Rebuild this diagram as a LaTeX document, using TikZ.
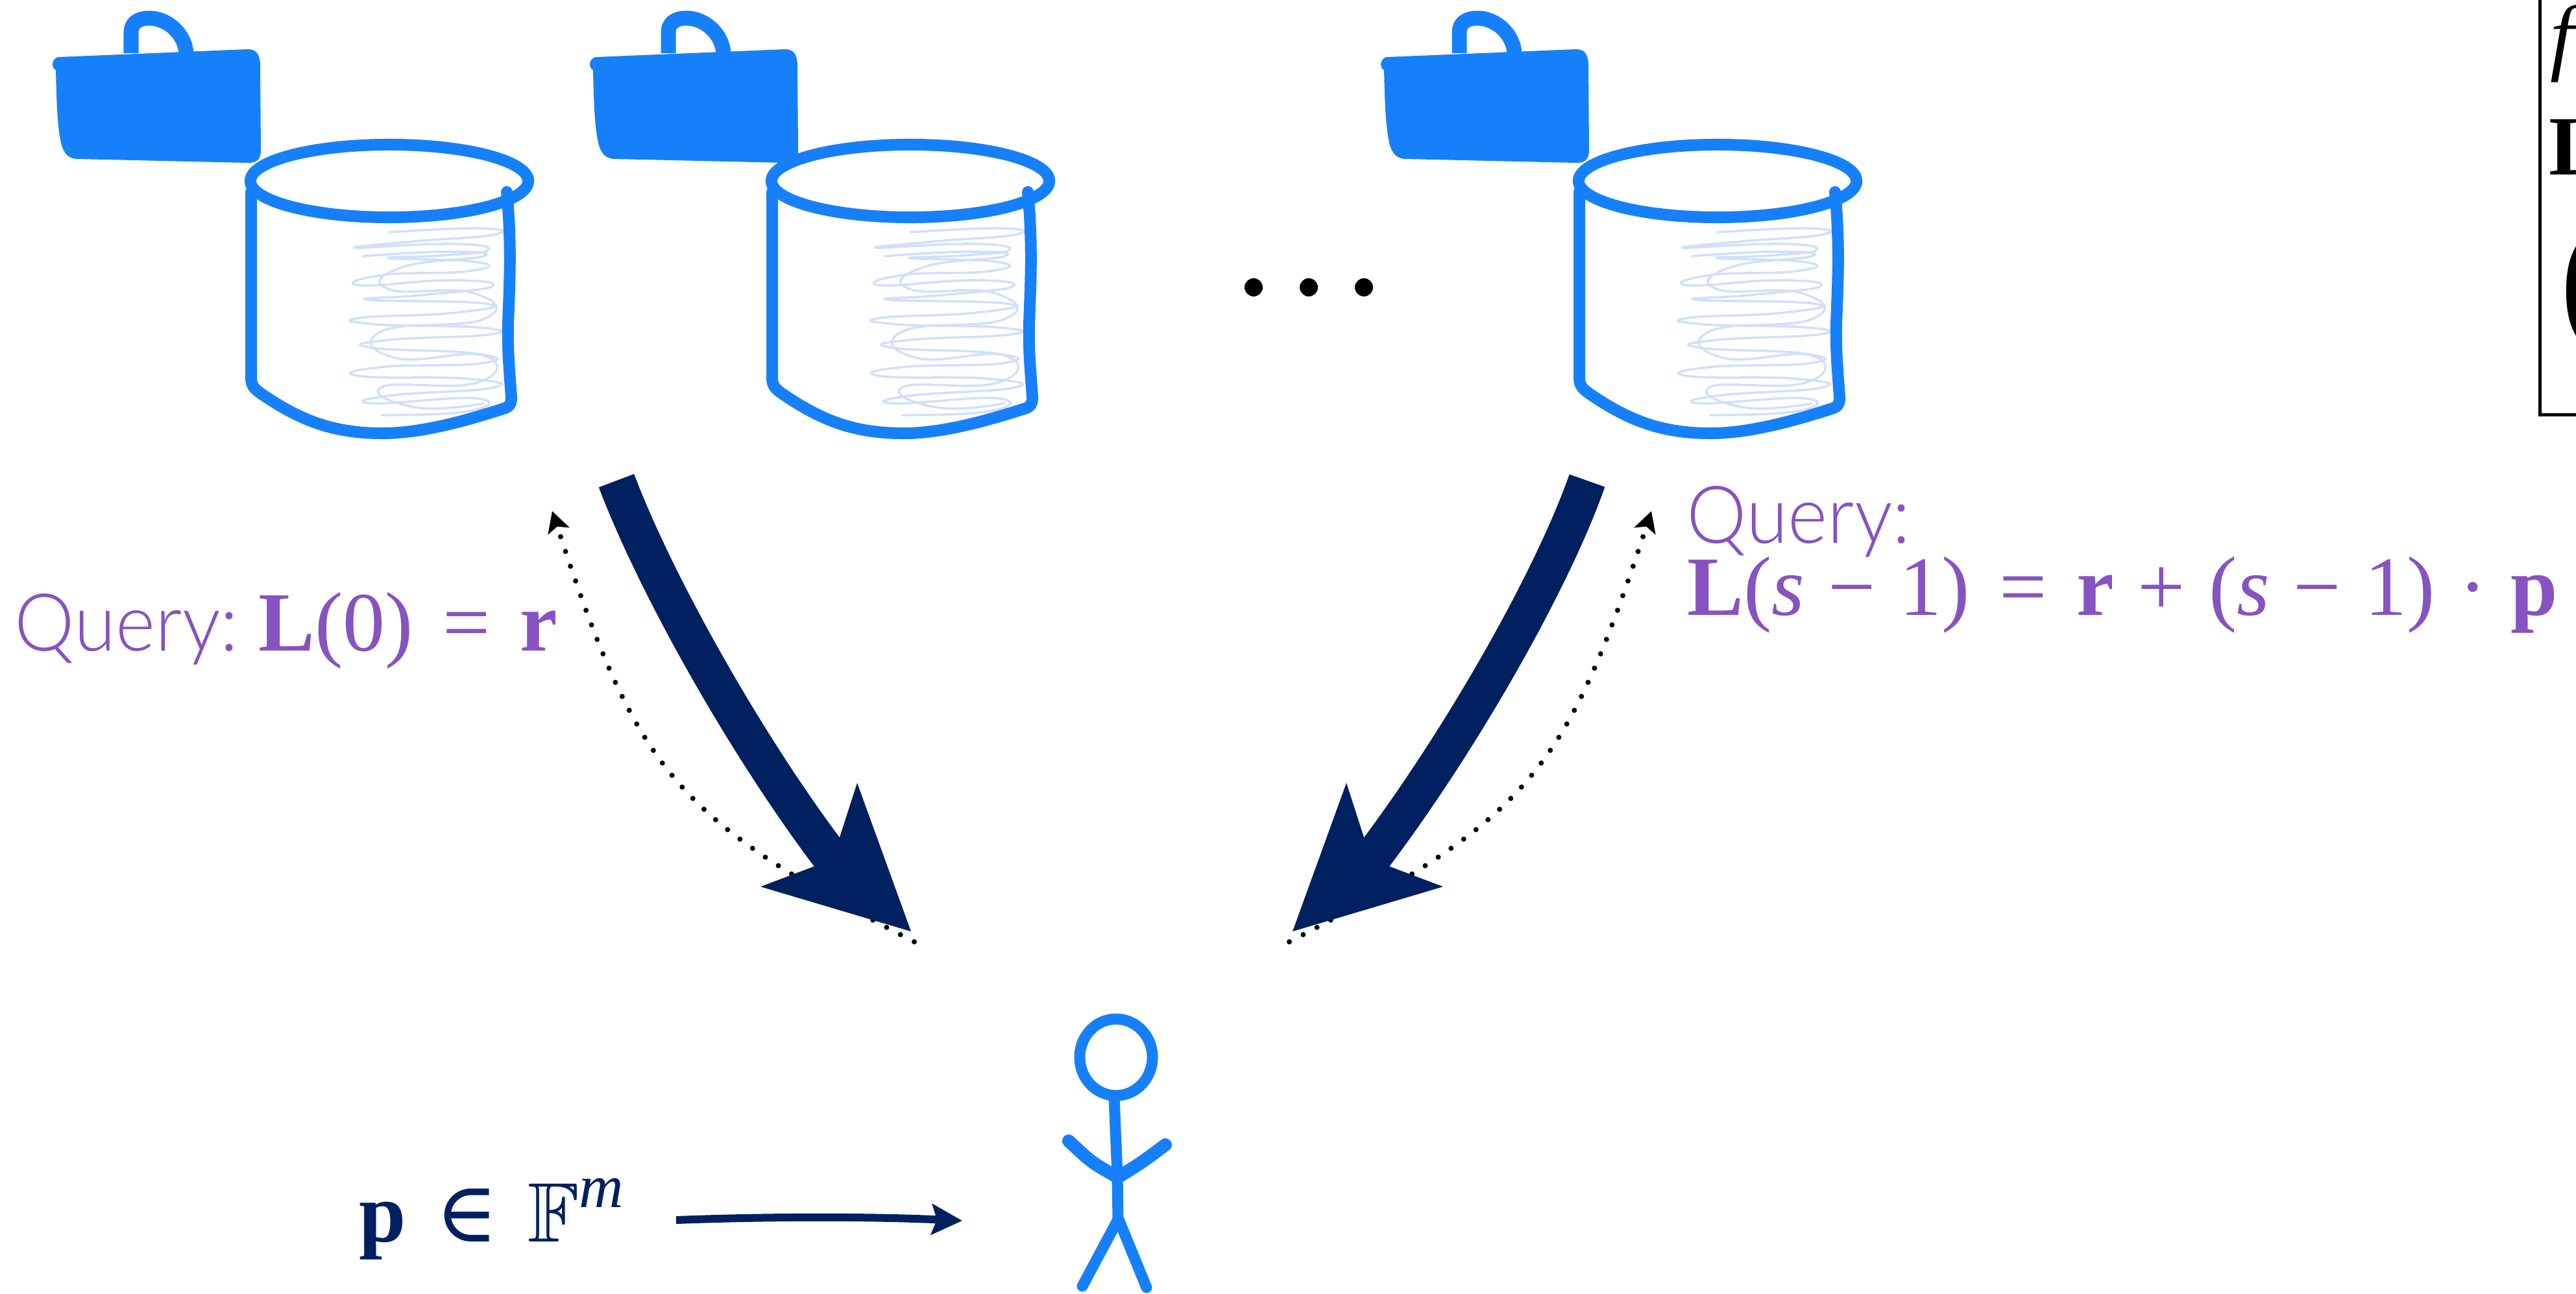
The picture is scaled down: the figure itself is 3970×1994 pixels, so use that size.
\documentclass[tikz,border=0pt]{standalone}
\usepackage{amssymb}
\usepackage{fontspec}
\setmainfont{Liberation Serif}
\usetikzlibrary{arrows.meta}
\newfontfamily\qfont[UprightFont=* Light, FakeStretch=0.95]{Lato}
\newfontfamily\symfont{DejaVu Serif}
\definecolor{iconblue}{HTML}{1680FA}
\definecolor{scribble}{HTML}{D0E0FA}
\definecolor{navy}{HTML}{012060}
\definecolor{querypurple}{HTML}{8653C1}
% spacing around binary signs and relations in the formulas
\newcommand{\bsp}{\hspace{0.28em}}
\newcommand{\rsp}{\hspace{0.35em}}
\tikzset{
  outline/.style={draw=iconblue, line width=0.18cm, line cap=round, line join=round},
  scrib/.style={draw=scribble, line width=0.035cm, line cap=round, line join=round},
  bigarrow/.style={draw=navy, line width=0.58cm},
  bighead/.style={fill=navy},
  dotpath/.style={draw=black, line width=0.08cm, line cap=round, dash pattern=on 0pt off 0.24cm,
    -{Stealth[length=0.32cm, width=0.34cm, inset=0.07cm]}},
  person/.style={draw=iconblue, line width=0.17cm, line cap=round, line join=round},
  mathsize/.style={font=\fontsize{37}{44}\selectfont},
  qsize/.style={font=\qfont\fontsize{35}{40}\selectfont},
  querytext/.style={text=querypurple, inner sep=0pt, anchor=base west},
  ellipsisdot/.style={circle, fill=black, inner sep=0pt, minimum size=0.28cm},
}
\begin{document}
\begin{tikzpicture}[x=0.01cm, y=-0.01cm]
\useasboundingbox (0,0) rectangle (3970,1994);
\clip (0,0) rectangle (3970,1994);

% briefcases (key holders)
\foreach \bx in {0, 828, 2047} {
  \begin{scope}[shift={(\bx,0)}]
    \fill[iconblue] (90,88) -- (380,76) .. controls (396,75) and (401,85) .. (401,102)
      -- (402,232) .. controls (402,246) and (395,252) .. (380,251)
      -- (118,245) .. controls (102,244) and (96,232) .. (93,215)
      .. controls (88,190) and (87,150) .. (86,108)
      .. controls (78,104) and (80,90) .. (90,88) -- cycle;
    \draw[iconblue, line width=0.23cm] (202,82) -- (202,50)
      .. controls (202,36) and (212,28) .. (230,28)
      .. controls (258,28) and (285,52) .. (287,82);
  \end{scope}
}

% database cylinders
\foreach \cx in {0, 803, 2047} {
  \begin{scope}[shift={(\cx,0)}]
    \draw[scrib] plot[smooth, tension=0.9] coordinates {
      (600,358) (740,352) (760,362) (640,372) (548,382) (700,376) (752,386) (680,394)
      (600,398) (735,404) (722,418) (590,424) (556,440) (700,432) (757,442) (650,455)
      (566,462) (748,468) (702,482) (556,490) (580,500) (738,505) (752,516) (600,524)
      (572,536) (732,545) (742,560) (588,566) (556,580) (722,584) (758,598) (600,610)
      (578,622) (732,614) (722,634) (588,640)};
    \draw[scrib] plot[smooth, tension=0.9] coordinates {
      (560,395) (690,388) (745,395) (620,412) (600,446) (730,452) (745,492) (590,510)
      (610,552) (745,548) (735,590) (590,596) (640,628) (745,622)};
    \draw[outline] (600,279) ellipse [x radius=2.14cm, y radius=0.56cm];
    \draw[outline] (387,296) -- (387,583)
      .. controls (387,597) and (395,602) .. (410,612)
      .. controls (470,652) and (520,668) .. (590,668)
      .. controls (650,668) and (720,648) .. (776,630)
      .. controls (786,627) and (788,622) .. (788,612)
      .. controls (785,570) and (782,540) .. (783,500)
      .. controls (785,440) and (789,380) .. (781,296);
  \end{scope}
}

% ellipsis between the servers
\node[ellipsisdot] (e1) at (1932,443) {};
\node[ellipsisdot] (e2) at (2017,443) {};
\node[ellipsisdot] (e3) at (2102,443) {};

% query paths (dotted, under the answers)
\coordinate (lqstart) at (1409,1452);
\coordinate (lqend) at (851,788);
\coordinate (rqstart) at (1987,1452);
\coordinate (rqend) at (2545,788);
\draw[dotpath] (lqstart) .. controls (1040,1261) and (984,1194) .. (lqend);
\draw[dotpath] (rqstart) .. controls (2356,1261) and (2412,1194) .. (rqend);

% answers (thick navy arrows)
\coordinate (latail) at (950,741);
\coordinate (laend) at (1283,1325);
\draw[bigarrow] (latail) .. controls (1010,900) and (1150,1150) .. (laend);
\fill[bighead] (1404,1436) -- (1321,1207) -- (laend) -- (1172,1367) -- cycle;
\coordinate (ratail) at (2446,741);
\coordinate (raend) at (2113,1325);
\draw[bigarrow] (ratail) .. controls (2390,900) and (2246,1150) .. (raend);
\fill[bighead] (1992,1436) -- (2075,1207) -- (raend) -- (2224,1367) -- cycle;

% query labels
\node[querytext, qsize] (qleft) at (22,1003) {Query:};
\node[querytext, mathsize] (qleftmath) at (398,1003)
  {\textbf{L}(0)\rsp=\rsp\textbf{r}};
\node[querytext, qsize] (qright) at (2599,837) {Query:};
\node[querytext, mathsize] (qrightmath) at (2600,948)
  {\textbf{L}(\textit{s}\bsp−\bsp1)\rsp=\rsp\textbf{r}\bsp+\bsp(\textit{s}\bsp−\bsp1)\bsp·\bsp\textbf{p}};

% user
\draw[person] (1720,1630) ellipse [x radius=0.56cm, y radius=0.59cm];
\draw[person] (1717,1692) -- (1722,1812) -- (1723,1880);
\draw[person, line width=0.2cm] (1647,1759) .. controls (1682,1792) .. (1719,1813);
\draw[person, line width=0.2cm] (1796,1765) .. controls (1760,1792) .. (1726,1813);
\draw[person] (1722,1882) -- (1668,1983);
\draw[person] (1724,1880) -- (1767,1985);
\coordinate (user) at (1483,1882);

% secret point handed to the user
\node[anchor=base west, inner sep=0pt, text=navy, mathsize] (pvec) at (553,1914)
  {\textbf{p}\rsp{\symfont ∈}\rsp$\mathbb{F}$\raisebox{0.4em}{\fontsize{27}{30}\selectfont\textit{m}}};
\coordinate (pstart) at (1042,1881);
\draw[navy, line width=0.12cm, -{Stealth[length=0.47cm, width=0.47cm, inset=0.08cm]}]
  (pstart) .. controls (1200,1875) and (1350,1876) .. (user);

% box at the right edge
\draw[black, line width=0.05cm] (3914,-20) -- (3914,639) -- (4100,639);
\node[anchor=base west, inner sep=0pt, mathsize] (fbox) at (3930,100)
  {\textit{f}\raisebox{-0.15em}{\fontsize{26}{30}\selectfont\textbf{L}}};
\node[anchor=base west, inner sep=0pt, mathsize] (lbox) at (3928,269) {\textbf{L}};
\node[anchor=base west, inner sep=0pt, font=\fontsize{70}{80}\selectfont] (pbox) at (3944,508) {(};
\end{tikzpicture}
\end{document}
